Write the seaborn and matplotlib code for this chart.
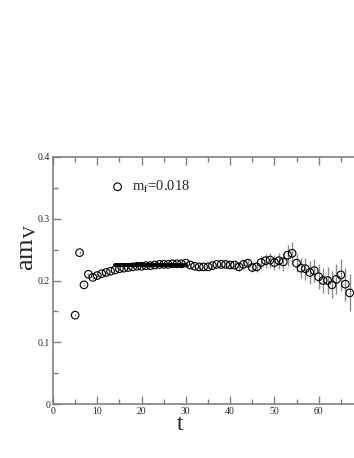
import matplotlib
matplotlib.use("Agg")
import matplotlib.pyplot as plt
import numpy as np
import pandas as pd
import seaborn as sns
from matplotlib.ticker import MultipleLocator

# effective mass data, m_f = 0.018
t_vals = list(range(5, 68))
am_v = [
    0.144, 0.245, 0.193, 0.210, 0.205, 0.208, 0.211, 0.213, 0.215, 0.217,
    0.219, 0.220, 0.221, 0.222, 0.223, 0.223, 0.224, 0.224, 0.225, 0.226,
    0.226, 0.226, 0.227, 0.227, 0.227, 0.228, 0.225, 0.223, 0.222, 0.222,
    0.222, 0.224, 0.226, 0.226, 0.226, 0.225, 0.225, 0.222, 0.226, 0.228,
    0.221, 0.222, 0.229, 0.232, 0.233, 0.229, 0.232, 0.230, 0.241, 0.244,
    0.228, 0.220, 0.219, 0.213, 0.216, 0.206, 0.200, 0.200, 0.193, 0.202,
    0.209, 0.194, 0.180,
]
am_err = [
    0.002, 0.002, 0.002, 0.002, 0.002, 0.002, 0.002, 0.002, 0.002, 0.002,
    0.002, 0.002, 0.002, 0.002, 0.002, 0.002, 0.002, 0.002, 0.002, 0.002,
    0.002, 0.002, 0.002, 0.002, 0.002, 0.003, 0.003, 0.003, 0.003, 0.003,
    0.003, 0.004, 0.004, 0.004, 0.005, 0.005, 0.006, 0.006, 0.007, 0.007,
    0.008, 0.008, 0.010, 0.011, 0.012, 0.012, 0.013, 0.014, 0.017, 0.018,
    0.015, 0.016, 0.018, 0.018, 0.019, 0.020, 0.021, 0.022, 0.022, 0.024,
    0.026, 0.027, 0.030,
]
fit_t = [14, 30]
fit_val = [0.2255, 0.2255]
x_ticks = [0, 10, 20, 30, 40, 50, 60, 70]
x_labels = ["0", "10", "20", "30", "40", "50", "60", ""]
y_ticks = [0, 0.1, 0.2, 0.3, 0.4]
y_labels = ["0", "0.1", "0.2", "0.3", "0.4"]

df = pd.DataFrame({"t": t_vals, "am": am_v, "err": am_err})
fit_df = pd.DataFrame({"t": fit_t, "am": fit_val})

sns.set_style("ticks")
plt.rcParams["font.family"] = ["Liberation Serif", "DejaVu Serif"]
plt.rcParams["mathtext.fontset"] = "stix"

fig = plt.figure(figsize=(3.54, 4.58), dpi=100)
ax = fig.add_axes([53 / 354, 53.7 / 458, 310 / 354, 247.6 / 458])

ax.errorbar(df["t"], df["am"], yerr=df["err"], fmt="none",
            ecolor="#8c8c8c", elinewidth=1.0, capsize=0, zorder=2)
sns.scatterplot(data=df, x="t", y="am", ax=ax, marker="o", s=30,
                facecolor="none", edgecolor="black", linewidth=0.8,
                label="m$_\\mathrm{f}$=0.018", zorder=3)
sns.lineplot(data=fit_df, x="t", y="am", ax=ax, color="black",
             linewidth=2.8, legend=False, zorder=4)

ax.set_xlim(0, 70)
ax.set_ylim(0, 0.4)
ax.set_xticks(x_ticks)
ax.set_xticklabels(x_labels)
ax.xaxis.set_minor_locator(MultipleLocator(5))
ax.set_yticks(y_ticks)
ax.set_yticklabels(y_labels)
ax.yaxis.set_minor_locator(MultipleLocator(0.05))

ax.tick_params(which="both", direction="in", top=True, right=True,
               color="#808080", width=1.0, labelsize=7, pad=2)
ax.tick_params(which="major", length=6)
ax.tick_params(which="minor", length=3.5)
for sp in ax.spines.values():
    sp.set_color("#808080")
    sp.set_linewidth(1.2)

ax.set_xlabel("t", fontsize=17)
ax.xaxis.set_label_coords(0.41, -0.04)
ax.set_ylabel("am$_\\mathrm{V}$", fontsize=19)
ax.yaxis.set_label_coords(-0.045, 0.635)

leg = ax.legend(loc="upper left", bbox_to_anchor=(0.166, 0.935), frameon=False,
                fontsize=10.5, handlelength=1.0, handletextpad=0.5,
                markerscale=1.0, borderaxespad=0)

fig.savefig("out.png", dpi=100)
